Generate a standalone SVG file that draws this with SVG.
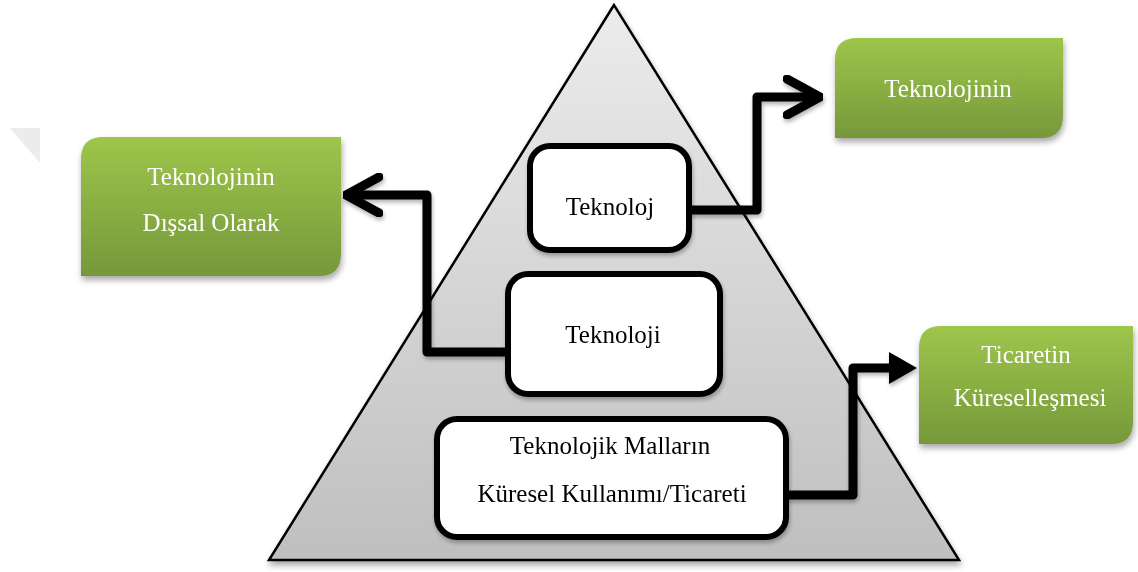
<svg xmlns="http://www.w3.org/2000/svg" width="1138" height="572" viewBox="0 0 1138 572">
<defs>
  <linearGradient id="triGrad" x1="0" y1="0" x2="0" y2="1">
    <stop offset="0" stop-color="#ececec"/>
    <stop offset="1" stop-color="#bfbfbf"/>
  </linearGradient>
  <linearGradient id="greenGrad" x1="0" y1="0" x2="0" y2="1">
    <stop offset="0" stop-color="#9dc64b"/>
    <stop offset="1" stop-color="#76983a"/>
  </linearGradient>
  <filter id="shadow" x="-10%" y="-10%" width="125%" height="130%">
    <feGaussianBlur in="SourceAlpha" stdDeviation="3"/>
    <feOffset dx="1" dy="4" result="b"/>
    <feComponentTransfer><feFuncA type="linear" slope="0.35"/></feComponentTransfer>
    <feMerge><feMergeNode/><feMergeNode in="SourceGraphic"/></feMerge>
  </filter>
  <filter id="lshadow" x="-10%" y="-10%" width="130%" height="130%">
    <feGaussianBlur in="SourceAlpha" stdDeviation="2"/>
    <feOffset dx="1" dy="3" result="b"/>
    <feComponentTransfer><feFuncA type="linear" slope="0.3"/></feComponentTransfer>
    <feMerge><feMergeNode/><feMergeNode in="SourceGraphic"/></feMerge>
  </filter>
  <marker id="chev" markerUnits="userSpaceOnUse" viewBox="0 0 40 44" refX="37" refY="22" markerWidth="40" markerHeight="44" orient="auto">
    <path d="M4 4 L37 22 L4 40" fill="none" stroke="#000" stroke-width="9" stroke-linecap="round" stroke-linejoin="miter"/>
  </marker>
  <marker id="tri" markerUnits="userSpaceOnUse" viewBox="0 0 28 32" refX="2" refY="16" markerWidth="28" markerHeight="32" orient="auto">
    <path d="M0 0 L28 16 L0 32 Z" fill="#000"/>
  </marker>
</defs>
<style>
  .tw { font-family: "Liberation Serif", "Times New Roman", serif; font-size: 25px; fill: #000; text-anchor: middle; }
  .tg { font-family: "Liberation Serif", "Times New Roman", serif; font-size: 25px; fill: #ffffff; text-anchor: middle; }
  .wbox { fill: #ffffff; stroke: #000; stroke-width: 6; }
  .gbox { fill: url(#greenGrad); }
  .conn { fill: none; stroke: #000; stroke-width: 9; stroke-linejoin: round; }
</style>
<rect width="1138" height="572" fill="#ffffff"/>
<polygon points="10,128 40,128 40,163" fill="#ececec"/>

<g id="pyramid" filter="url(#shadow)">
  <polygon points="614,5 269,560 959,560" fill="url(#triGrad)" stroke="#000" stroke-width="2.5" stroke-linejoin="miter"/>
</g>

<g id="connectors" filter="url(#lshadow)">
  <polyline class="conn" points="507,352 427,352 427,195 346,195" marker-end="url(#chev)"/>
  <polyline class="conn" points="689,210 757,210 757,97 820,97" marker-end="url(#chev)"/>
  <polyline class="conn" points="786,495 853,495 853,368 891,368" marker-end="url(#tri)"/>
</g>

<g id="node-teknoloj" filter="url(#lshadow)">
  <rect class="wbox" x="530" y="146" width="159" height="104" rx="20"/>
  <text class="tw" x="610" y="215">Teknoloj</text>
</g>
<g id="node-teknoloji" filter="url(#lshadow)">
  <rect class="wbox" x="508" y="274" width="212" height="120" rx="20"/>
  <text class="tw" x="613" y="343">Teknoloji</text>
</g>
<g id="node-mallar" filter="url(#lshadow)">
  <rect class="wbox" x="437" y="419" width="349" height="118" rx="20"/>
  <text class="tw" x="610" y="454">Teknolojik Malların</text>
  <text class="tw" x="612" y="502">Küresel Kullanımı/Ticareti</text>
</g>

<g id="node-dissal" filter="url(#shadow)">
  <path class="gbox" d="M103,137 H341 V254 Q341,276 319,276 H81 V159 Q81,137 103,137 Z"/>
  <text class="tg" x="211" y="185">Teknolojinin</text>
  <text class="tg" x="211" y="231">Dışsal Olarak</text>
</g>
<g id="node-teknolojinin" filter="url(#shadow)">
  <path class="gbox" d="M857,38 H1063 V116 Q1063,138 1041,138 H835 V60 Q835,38 857,38 Z"/>
  <text class="tg" x="948" y="97">Teknolojinin</text>
</g>
<g id="node-ticaret" filter="url(#shadow)">
  <path class="gbox" d="M941,326 H1133 V422 Q1133,444 1111,444 H919 V348 Q919,326 941,326 Z"/>
  <text class="tg" x="1026" y="363">Ticaretin</text>
  <text class="tg" x="1030" y="406">Küreselleşmesi</text>
</g>
</svg>
